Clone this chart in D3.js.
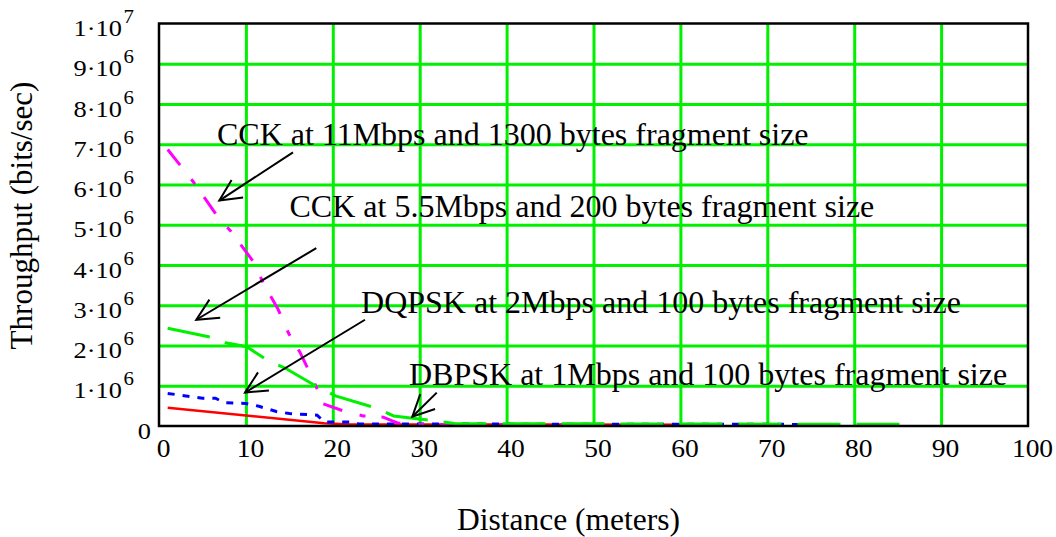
<!DOCTYPE html>
<html>
<head>
<meta charset="utf-8">
<script src="https://cdn.jsdelivr.net/npm/d3@7"></script>
<style>
  html, body { margin: 0; padding: 0; background: #fff; }
  svg { display: block; }
  text { font-family: "Liberation Serif", "Times New Roman", Times, serif; fill: #000; }
</style>
</head>
<body>
<svg id="chart" width="1056" height="537"></svg>
<script>
// Distances (meters) and throughput (bits/sec) for each modulation scheme
const dbpskDist = [1, 19, 22, 64];
const dbpskThru = [455000, 70000, 40000, 30000];

const dqpskDist = [1, 5, 6.5, 7.5, 10, 11.5, 13.5, 15, 18.2, 19, 22, 23, 74];
const dqpskThru = [810000, 690000, 690000, 580000, 560000, 490000, 360000, 310000, 270000, 100000, 100000, 50000, 40000];

const cck55Dist = [1, 6.1, 7.8, 10.1, 12.4, 14.5, 18, 20.3, 25.1, 27, 32, 34, 87];
const cck55Thru = [2430000, 2200000, 2060000, 1970000, 1640000, 1440000, 1000000, 750000, 440000, 250000, 120000, 60000, 40000];

const cck11Dist = [1, 4, 6.7, 8.3, 10.9, 12, 13.7, 14.9, 16.2, 17.3, 18.2, 18.9, 21.4, 23.5, 25.8, 27.5, 30, 50];
const cck11Thru = [6870000, 6050000, 5220000, 4830000, 4070000, 3550000, 2900000, 2310000, 1840000, 1350000, 920000, 550000, 360000, 250000, 220000, 70000, 40000, 40000];

// Axis ticks
const xTicks = [0, 10, 20, 30, 40, 50, 60, 70, 80, 90, 100];
const yTicks = [0, 1e6, 2e6, 3e6, 4e6, 5e6, 6e6, 7e6, 8e6, 9e6, 1e7];

// Axis titles
const xTitle = "Distance (meters)";
const yTitle = "Throughput (bits/sec)";

// Callout labels, their anchor points and arrows (data units)
const calloutText = [
  "CCK at 11Mbps and 1300 bytes fragment size",
  "CCK at 5.5Mbps and 200 bytes fragment size",
  "DQPSK at 2Mbps and 100 bytes fragment size",
  "DBPSK at 1Mbps and 100 bytes fragment size"
];
const calloutAt = [[6.67, 6.98e6], [15.02, 5.2e6], [23.25, 2.8e6], [28.77, 1.02e6]];
const arrowTail = [[15.42, 6.80e6], [18.10, 4.42e6], [23.70, 2.64e6], [31.96, 0.83e6]];
const arrowHead = [[6.94, 5.60e6], [4.29, 2.64e6], [9.90, 0.83e6], [29.15, 0.23e6]];

const svg = d3.select("#chart");
const plotLeft = 159, plotRight = 1028, plotTop = 23.5, plotBottom = 426;
const x = d3.scaleLinear().domain([0, 100]).range([plotLeft, plotRight]);
const y = d3.scaleLinear().domain([0, 1e7]).range([plotBottom, plotTop]);

// tick numerals are set slightly wide
const tickStretch = 1.1;

svg.append("rect").attr("width", 1056).attr("height", 537).attr("fill", "#fff");

// Grid
const gridColor = "#00f000";
const gx = svg.append("g").attr("transform", `translate(0,${plotBottom})`)
  .call(d3.axisBottom(x).tickValues(xTicks.slice(1, -1)).tickSize(-(plotBottom - plotTop)).tickFormat(""));
const gy = svg.append("g").attr("transform", `translate(${plotLeft},0)`)
  .call(d3.axisLeft(y).tickValues(yTicks.slice(1, -1)).tickSize(-(plotRight - plotLeft)).tickFormat(""));
[gx, gy].forEach(g => {
  g.select(".domain").remove();
  g.selectAll("line").attr("stroke", gridColor).attr("stroke-width", 3);
});

// Series
const line = d3.line().x(d => x(d[0])).y(d => y(d[1]));
const series = [
  { dist: dbpskDist, thru: dbpskThru, color: "#ff0000", width: 2.5, dash: null },
  { dist: dqpskDist, thru: dqpskThru, color: "#0000ff", width: 3, dash: "7,8" },
  { dist: cck11Dist, thru: cck11Thru, color: "#ff00ff", width: 3, dash: "20,18,6,16" },
  { dist: cck55Dist, thru: cck55Thru, color: "#00f000", width: 3, dash: "43,16" }
];
series.forEach(s => {
  svg.append("path")
    .datum(s.dist.map((d, i) => [d, s.thru[i]]))
    .attr("d", line)
    .attr("fill", "none")
    .attr("stroke", s.color)
    .attr("stroke-width", s.width)
    .attr("stroke-dasharray", s.dash);
});

// Frame
svg.append("rect")
  .attr("x", plotLeft).attr("y", plotTop)
  .attr("width", plotRight - plotLeft).attr("height", plotBottom - plotTop)
  .attr("fill", "none").attr("stroke", "#000").attr("stroke-width", 2.5);

// X axis labels
const xa = svg.append("g").attr("transform", `translate(0,${plotBottom})`)
  .call(d3.axisBottom(x).tickValues(xTicks).tickSize(0).tickFormat(d3.format("d")));
xa.select(".domain").remove();
xa.attr("font-family", null).attr("font-size", null);
xa.selectAll("text")
  .attr("y", 31).attr("dy", null).attr("x", 4 / tickStretch)
  .attr("transform", `scale(${tickStretch},1)`)
  .attr("font-size", 25);

// Y axis labels in m·10^e form
const ya = svg.append("g").attr("transform", `translate(${plotLeft},0)`)
  .call(d3.axisLeft(y).tickValues(yTicks).tickSize(0).tickFormat(""));
ya.select(".domain").remove();
ya.attr("font-family", null).attr("font-size", null);
ya.selectAll(".tick text").each(function (v) {
  const t = d3.select(this)
    .attr("y", 12).attr("dy", null)
    .attr("font-size", 24)
    .attr("transform", `scale(${tickStretch},1)`)
    .attr("text-anchor", "end");
  if (v === 0) {
    t.attr("x", -8 / tickStretch).text("0");
  } else {
    const e = Math.floor(Math.log10(v) + 1e-9);
    const m = Math.round(v / Math.pow(10, e));
    t.attr("x", -25 / tickStretch).text(null);
    t.append("tspan").text(m + "\u00b710");
    t.append("tspan").attr("dy", -13).attr("dx", 1.5).attr("font-size", 19).text(e);
  }
});

// Axis titles
svg.append("text")
  .attr("x", 568.5).attr("y", 530)
  .attr("text-anchor", "middle").attr("font-size", 31.5)
  .text(xTitle);
svg.append("text")
  .attr("transform", "translate(32,215.5) rotate(-90)")
  .attr("text-anchor", "middle").attr("font-size", 31)
  .text(yTitle);

// Callouts with open arrowheads
const headLen = 24, headAngle = 26 * Math.PI / 180;
calloutText.forEach((txt, i) => {
  svg.append("text")
    .attr("x", x(calloutAt[i][0])).attr("y", y(calloutAt[i][1]))
    .attr("font-size", 32)
    .text(txt);
  const tx = x(arrowTail[i][0]), ty = y(arrowTail[i][1]);
  const hx = x(arrowHead[i][0]), hy = y(arrowHead[i][1]);
  const back = Math.atan2(ty - hy, tx - hx);
  const wings = [back - headAngle, back + headAngle].map(a => [hx + headLen * Math.cos(a), hy + headLen * Math.sin(a)]);
  const g = svg.append("g").attr("stroke", "#000").attr("stroke-width", 2).attr("fill", "none");
  g.append("line").attr("x1", tx).attr("y1", ty).attr("x2", hx).attr("y2", hy);
  g.append("path").attr("d", `M${wings[0][0]},${wings[0][1]}L${hx},${hy}L${wings[1][0]},${wings[1][1]}`);
});
</script>
</body>
</html>
